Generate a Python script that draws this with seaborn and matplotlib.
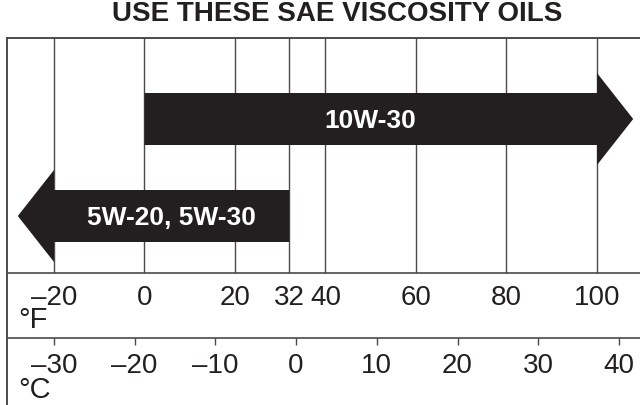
import seaborn as sns
import matplotlib.pyplot as plt

# chart content
title = "USE THESE SAE VISCOSITY OILS"
f_ticks = [-20, 0, 20, 32, 40, 60, 80, 100]
f_labels = ["–20", "0", "20", "32", "40", "60", "80", "100"]
c_ticks = [-30, -20, -10, 0, 10, 20, 30, 40]
c_labels = ["–30", "–20", "–10", "0", "10", "20", "30", "40"]
oil_names = ["10W-30", "5W-20, 5W-30"]
oil_start = [0, 32]     # deg F where the arrow body starts
oil_end = [100, -20]    # deg F where the arrow head begins

sns.set_theme(style="white")
plt.rcParams["font.family"] = ["Liberation Sans", "DejaVu Sans"]

ink = "#231f20"
grid = "#4a4a4a"

fig = plt.figure(figsize=(6.4, 4.06), dpi=100)
ax = fig.add_axes([7 / 640, 0, 633 / 640, 367 / 406])
ax.set_ylim(0, 367)
# x axis in deg F, calibrated to the drawing
ax.set_xlim((7 - 144.5) / 4.525, (640 - 144.5) / 4.525)

# celsius strip has its own scale
axc = ax.twiny()
axc.set_xlim((7 - 296.1) / 8.071, (640 - 296.1) / 8.071)

for a in (ax, axc):
    a.set_xticks([])
    a.set_yticks([])
    for s in ["right", "bottom"]:
        a.spines[s].set_visible(False)
    a.spines["left"].set_color(grid)
    a.spines["top"].set_color(grid)
    a.spines["left"].set_linewidth(1.2)
    a.spines["top"].set_linewidth(1.2)

f_row, c_row, top = 132, 67, 367
ax.axhline(f_row, color=grid, lw=1.2)
ax.axhline(c_row, color=grid, lw=1.2)
ax.vlines(f_ticks, f_row, top, color=grid, lw=1.0)
axc.vlines(c_ticks, c_row - 7, c_row, color=grid, lw=1.0)

for t, lab in zip(f_ticks, f_labels):
    ax.text(t, 108, lab, ha="center", va="center", fontsize=20, color=ink)
for t, lab in zip(c_ticks, c_labels):
    axc.text(t, 40, lab, ha="center", va="center", fontsize=20, color=ink)
ax.text(11 / 633, 78 / 367, "°F", transform=ax.transAxes, ha="left",
        va="baseline", fontsize=21, color=ink)
ax.text(11 / 633, 8 / 367, "°C", transform=ax.transAxes, ha="left",
        va="baseline", fontsize=21, color=ink)

# arrows
centers = [286, 189]
body = 26
head = 46
head_len = 8
for name, x0, x1, yc in zip(oil_names, oil_start, oil_end, centers):
    d = 1 if x1 > x0 else -1
    xs = [x0, x1, x1, x1 + d * head_len, x1, x1, x0]
    ys = [yc + body, yc + body, yc + head, yc, yc - head, yc - body, yc - body]
    ax.fill(xs, ys, color=ink, lw=0, zorder=3)
    ax.text((x0 + x1) / 2, yc - 1, name, ha="center", va="center",
            fontsize=19, fontweight="bold", color="white", zorder=4)

fig.text(337 / 640, 1 - 14 / 406, title, ha="center", va="center",
         fontsize=20, fontweight="bold", color=ink)

fig.savefig("out.png", dpi=100)
